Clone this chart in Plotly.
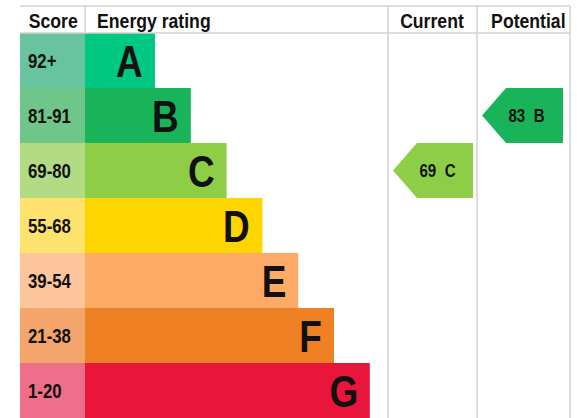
import plotly.graph_objects as go

# ---- data ----
ratings = ["A", "B", "C", "D", "E", "F", "G"]
score_bands = ["92+", "81-91", "69-80", "55-68", "39-54", "21-38", "1-20"]
band_min = [92, 81, 69, 55, 39, 21, 1]
bar_colors = ["#00c781", "#19b459", "#8dce46", "#ffd500", "#fcaa65", "#ef8023", "#e9153b"]
score_colors = ["#68c49e", "#6fc68b", "#b1dc83", "#fde26d", "#fdc59b", "#f4a56b", "#ef6e89"]
headers = ["Score", "Energy rating", "Current", "Potential"]
current_score = 69
potential_score = 83

# ---- layout geometry (pixels) ----
W, H = 577, 418
ROW_TOP, ROW_H = 33, 55
FONT = "Liberation Sans Narrow, Arial Narrow, Liberation Sans, Arial, sans-serif"
TXT = "#111111"
GRID = "#d2d2d2"
SQUASH = 0.84  # narrow-font look


def py(p):
    """pixel y -> axis y (rows centred on integer index)"""
    return (p - ROW_TOP) / ROW_H - 0.5


def band_index(score):
    for i, m in enumerate(band_min):
        if score >= m:
            return i
    return len(band_min) - 1


score_x0, score_x1 = 20, 85
bar_x0 = 85
bar_len = [70 + 35.8 * i for i in range(len(ratings))]
cur_col = (388, 477)
pot_col = (477, 570)
rows = list(range(len(ratings)))

fig = go.Figure()

# score column
fig.add_trace(go.Bar(
    y=rows, x=[score_x1 - score_x0] * len(rows), base=score_x0, orientation="h",
    width=1, marker=dict(color=score_colors, line=dict(width=0)),
    hoverinfo="skip", showlegend=False))

# energy bars
fig.add_trace(go.Bar(
    y=rows, x=bar_len, base=bar_x0, orientation="h",
    width=1, marker=dict(color=bar_colors, line=dict(width=0)),
    hoverinfo="skip", showlegend=False))

annotations = []


def note(x, y, text, anchor, size):
    annotations.append(dict(x=x, y=y, text="<b>%s</b>" % text, xanchor=anchor, yanchor="middle",
                            showarrow=False, borderpad=0, borderwidth=0,
                            font=dict(family=FONT, size=size, color=TXT)))


for i in rows:
    note(score_x0 + 8, i, score_bands[i], "left", 20)
    note(bar_x0 + bar_len[i] - 12, i + 0.02, ratings[i], "right", 44)


def add_arrow(score, col, pad_l, pad_r):
    r = band_index(score)
    x0, x1 = col[0] + pad_l, col[1] - pad_r
    xs = [x0, x0 + 24, x1, x1, x0 + 24, x0]
    ys = [r, r - 0.5, r - 0.5, r + 0.5, r + 0.5, r]
    fig.add_trace(go.Scatter(x=xs, y=ys, mode="lines", fill="toself",
                             fillcolor=bar_colors[r], line=dict(width=0, color=bar_colors[r]),
                             hoverinfo="skip", showlegend=False))
    note((x0 + x1) / 2 + 4, r, "%d&nbsp;&nbsp;%s" % (score, ratings[r]), "center", 18)


add_arrow(current_score, cur_col, 5, 4)
add_arrow(potential_score, pot_col, 5, 7)

# headers
hy = py(20)
note((score_x0 + score_x1) / 2, hy, headers[0], "center", 21)
note(97, hy, headers[1], "left", 21)
note(432, hy, headers[2], "center", 21)
note(528, hy, headers[3], "center", 21)

shapes = [
    dict(type="line", x0=20, x1=570, y0=py(6), y1=py(6), line=dict(color=GRID, width=1.5)),
    dict(type="line", x0=20, x1=570, y0=py(33), y1=py(33), line=dict(color=GRID, width=1.5)),
    dict(type="line", x0=85, x1=85, y0=py(6), y1=py(33), line=dict(color=GRID, width=1.5)),
]
for xv in (cur_col[0], pot_col[0], pot_col[1]):
    shapes.append(dict(type="line", x0=xv, x1=xv, y0=py(6), y1=py(H), line=dict(color=GRID, width=1.5)))

fig.update_layout(
    width=W, height=H, margin=dict(l=0, r=0, t=0, b=0),
    paper_bgcolor="white", plot_bgcolor="white",
    xaxis=dict(range=[0, W], visible=False, fixedrange=True),
    yaxis=dict(range=[py(H), py(0)], visible=False, fixedrange=True),
    annotations=annotations, shapes=shapes, barmode="overlay",
)

# condensed look: squash each annotation horizontally about its anchor edge
origin = {"left": "left center", "right": "right center", "center": "center"}
css = ["body{margin:0;}"]
for idx, a in enumerate(annotations):
    css.append('.annotation[data-index="%d"] .annotation-text{transform-box:fill-box;'
               'transform-origin:%s;transform:scaleX(%s);}' % (idx, origin[a["xanchor"]], SQUASH))
post = ("var s=document.createElement('style');s.textContent=%r;document.head.appendChild(s);"
        % "".join(css))

fig.write_html("out.html", config={"displayModeBar": False}, post_script=post)
